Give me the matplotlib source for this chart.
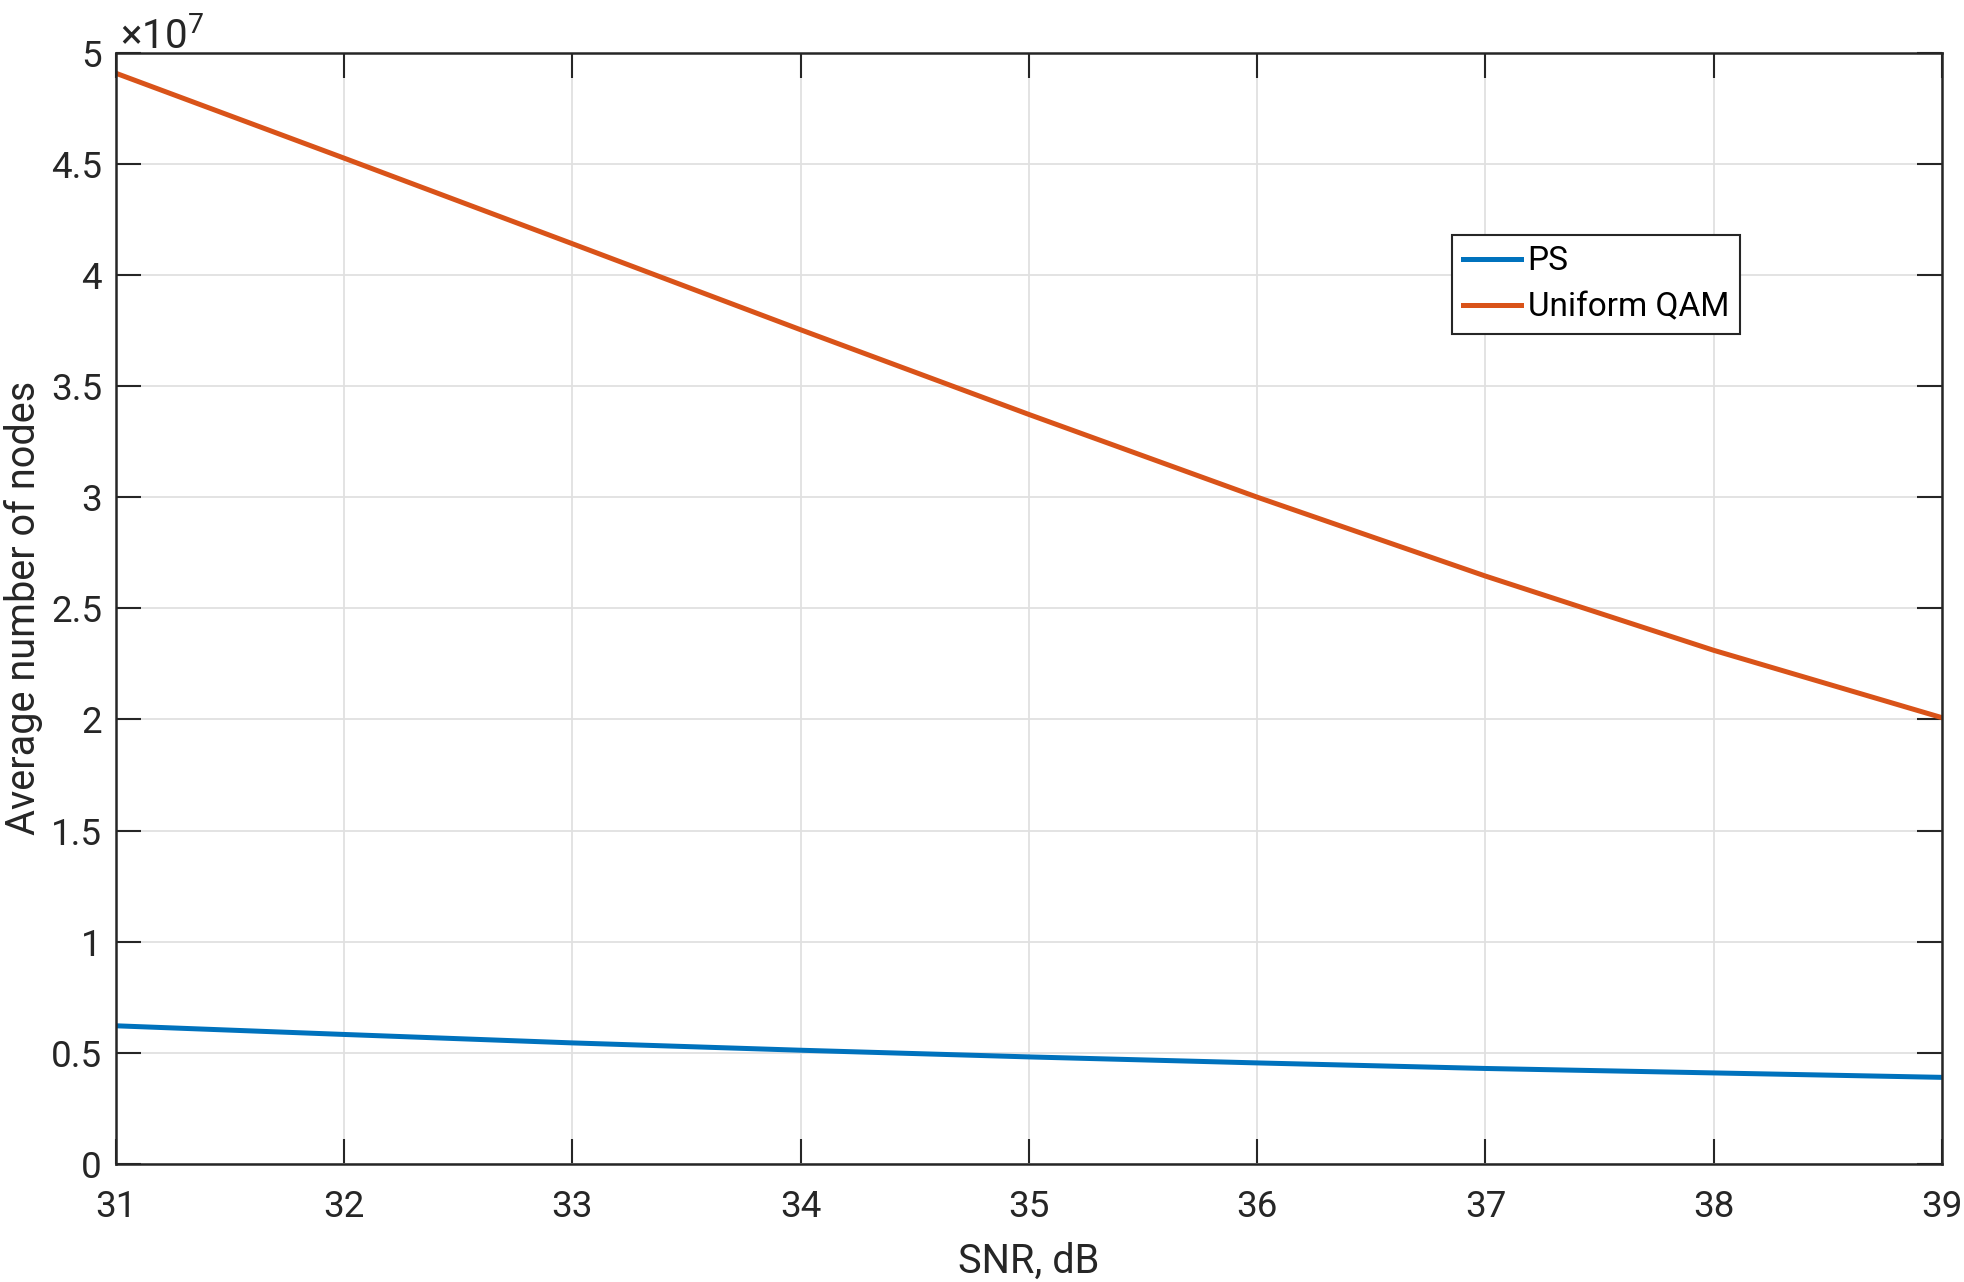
import matplotlib.pyplot as plt
from matplotlib.ticker import FuncFormatter, MultipleLocator

# SNR sweep and average node counts (in units of 1e7)
snr_db = [31, 32, 33, 34, 35, 36, 37, 38, 39]
ps_nodes = [0.622, 0.583, 0.545, 0.512, 0.482, 0.455, 0.430, 0.410, 0.390]
qam_nodes = [4.907, 4.525, 4.140, 3.753, 3.372, 3.000, 2.645, 2.311, 2.008]
series_labels = ['PS', 'Uniform QAM']

plt.rcParams['font.family'] = ['Roboto', 'DejaVu Sans']
plt.rcParams['mathtext.fontset'] = 'custom'
plt.rcParams['mathtext.rm'] = 'Roboto'

dark = '#262626'

fig = plt.figure(figsize=(19.64, 12.82), dpi=100)
ax = fig.add_axes([0.059, 0.092, 0.9298, 0.867])

ax.plot(snr_db, ps_nodes, color='#0072BD', lw=3.6, label=series_labels[0])
ax.plot(snr_db, qam_nodes, color='#D95319', lw=3.6, label=series_labels[1])

ax.set_xlim(31, 39)
ax.set_ylim(0, 5)
ax.xaxis.set_major_locator(MultipleLocator(1))
ax.yaxis.set_major_locator(MultipleLocator(0.5))
ax.yaxis.set_major_formatter(FuncFormatter(lambda v, p: f'{v:g}'))

ax.grid(True, color='#e0e0e0', lw=1.3)
ax.set_axisbelow(True)
ax.tick_params(direction='in', length=18, width=1.5, color=dark,
               labelsize=26.5, labelcolor=dark, top=True, right=True, pad=10)
ax.tick_params(axis='x', pad=18)
for s in ax.spines.values():
    s.set_color(dark)
    s.set_linewidth(1.8)

ax.set_xlabel('SNR, dB', fontsize=28.5, color=dark, labelpad=12)
ax.set_ylabel('Average number of nodes', fontsize=28.5, color=dark, labelpad=6)

# exponent label like MATLAB
ax.text(0.002, 0.996, r'$\times\mathregular{10^{7}}$', transform=ax.transAxes,
        fontsize=29, color=dark, ha='left', va='bottom')

leg = ax.legend(loc='upper left', bbox_to_anchor=(0.7317, 0.8363),
                fontsize=24, frameon=True, fancybox=False, framealpha=1,
                edgecolor=dark, handlelength=1.75, handletextpad=0.2,
                borderaxespad=0, borderpad=0.32, labelspacing=0.42)
leg.get_frame().set_linewidth(1.5)

fig.savefig('out.png', dpi=100)
